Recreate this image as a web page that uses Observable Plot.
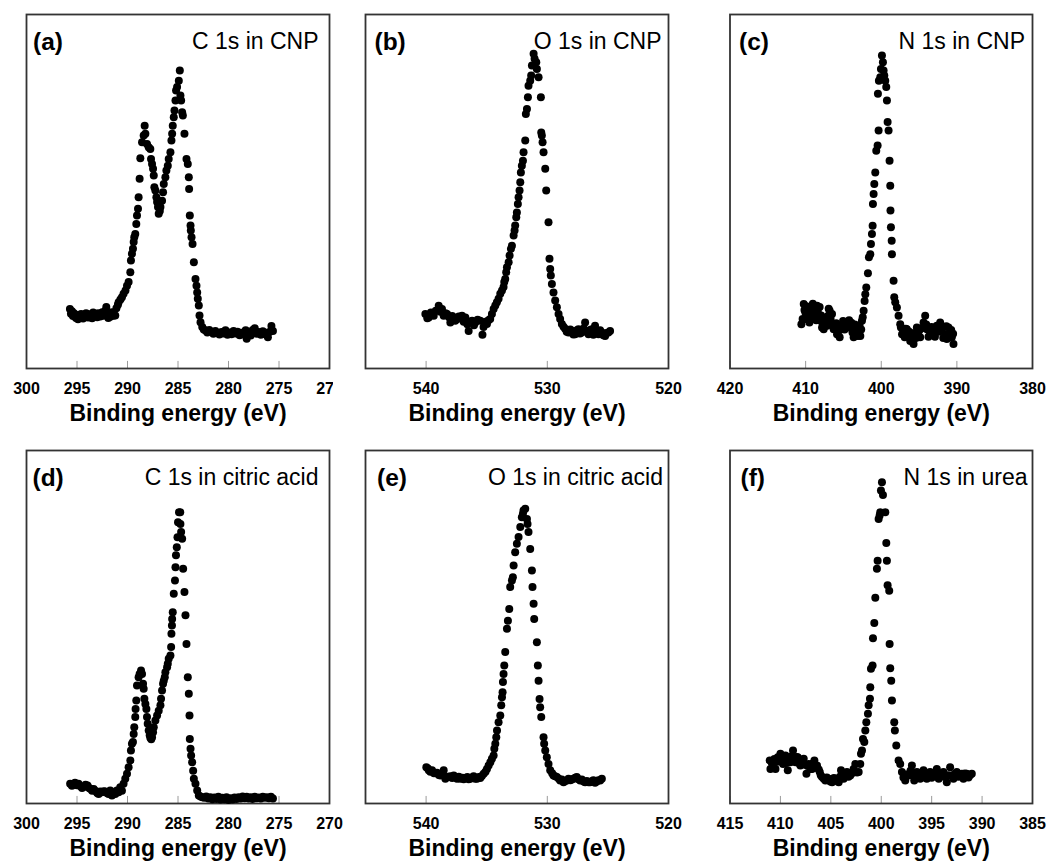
<!DOCTYPE html>
<html><head><meta charset="utf-8">
<script src="https://cdn.jsdelivr.net/npm/d3@7"></script>
<script src="https://cdn.jsdelivr.net/npm/@observablehq/plot@0.6"></script>
<style>
html,body{margin:0;padding:0;background:#fff;overflow:hidden}
#wrap{position:relative;width:1049px;height:865px;background:#fff}
.panel{position:absolute}
.panel svg{max-width:none !important}
</style></head><body><div id="wrap"></div>
<script>
// Binding energy (eV) and relative intensity (a.u., % of panel height)
const c1sCNP = [[295.7,16.8],[295.6,15.5],[295.5,16.2],[295.4,14.8],[295.3,15.6],[295.1,14.3],[295.0,15.1],[294.9,13.9],[294.7,14.6],[294.6,15.4],[294.4,14.1],[294.2,14.9],[294.1,15.6],[293.9,14.4],[293.7,15.3],[293.5,14.2],[293.4,15.8],[293.2,15.0],[293.0,14.5],[292.9,15.6],[292.7,14.7],[292.5,15.9],[292.4,14.9],[292.2,16.3],[292.1,17.4],[291.9,14.3],[291.8,15.1],[291.7,14.6],[291.54,15.9],[291.4,14.9],[291.21,15.0],[291.1,17.0],[290.95,18.0],[290.88,18.7],[290.7,19.5],[290.55,20.1],[290.39,21.1],[290.2,22.0],[290.05,23.4],[289.89,24.4],[289.72,27.2],[289.66,30.5],[289.56,32.4],[289.46,33.8],[289.39,35.7],[289.33,37.1],[289.23,38.0],[289.13,40.8],[289.06,43.2],[288.96,45.1],[288.9,48.4],[288.8,53.6],[288.73,59.4],[288.56,63.9],[288.4,65.8],[288.3,68.6],[288.23,66.3],[288.07,63.4],[287.9,62.5],[287.74,62.0],[287.67,59.2],[287.57,57.8],[287.47,56.4],[287.4,54.5],[287.34,51.2],[287.24,50.3],[287.14,48.4],[287.07,47.0],[286.98,45.6],[286.91,43.7],[286.8,44.5],[286.74,45.6],[286.58,47.4],[286.48,49.8],[286.41,52.1],[286.25,54.0],[286.15,55.9],[286.01,57.3],[285.92,59.2],[285.75,61.1],[285.65,64.4],[285.58,66.3],[285.52,68.6],[285.42,71.0],[285.35,72.9],[285.25,75.7],[285.19,78.5],[285.09,79.5],[284.92,81.3],[284.82,84.2],[284.76,77.1],[284.69,75.7],[284.59,72.4],[284.52,71.5],[284.36,66.3],[284.16,59.2],[284.03,57.8],[283.93,54.0],[283.9,50.7],[283.83,43.2],[283.76,40.4],[283.73,39.0],[283.66,37.1],[283.56,35.2],[283.43,30.0],[283.27,25.3],[283.17,23.4],[283.1,21.5],[283.04,19.7],[282.94,17.8],[282.87,15.0],[282.77,13.1],[282.6,11.7],[282.45,11.0],[282.27,10.7],[282.1,10.2],[281.9,10.9],[281.7,10.4],[281.5,9.8],[281.3,10.6],[281.1,10.0],[280.9,9.6],[280.7,10.3],[280.5,9.9],[280.3,10.8],[280.1,9.5],[279.9,10.2],[279.7,9.7],[279.5,10.6],[279.3,9.9],[279.1,10.4],[278.9,9.4],[278.7,10.1],[278.5,9.6],[278.3,10.8],[278.2,8.4],[278.0,10.0],[277.8,9.3],[277.6,10.9],[277.4,11.4],[277.2,9.8],[277.0,10.3],[276.8,9.5],[276.6,10.5],[276.4,9.7],[276.2,10.1],[276.1,8.8],[275.9,10.4],[275.75,12.0],[275.6,10.6]];

const o1sCNP = [[540.06,15.4],[539.9,14.2],[539.78,14.4],[539.6,15.8],[539.37,14.9],[539.2,16.3],[538.96,17.7],[538.82,16.0],[538.69,16.8],[538.55,14.9],[538.4,15.6],[538.27,15.4],[538.1,14.5],[538.0,13.0],[537.85,14.8],[537.72,14.4],[537.6,13.5],[537.45,13.9],[537.3,14.7],[537.04,14.9],[536.9,13.2],[536.76,14.4],[536.6,12.5],[536.49,10.6],[536.35,13.0],[536.21,13.5],[536.05,12.2],[535.94,13.0],[535.75,13.8],[535.53,13.5],[535.35,9.5],[535.26,11.7],[535.1,13.2],[534.98,12.6],[534.85,13.6],[534.71,14.0],[534.57,15.4],[534.43,16.8],[534.29,17.8],[534.16,18.7],[534.02,19.7],[533.88,21.1],[533.74,22.0],[533.61,23.0],[533.55,24.4],[533.47,25.3],[533.39,27.2],[533.33,28.6],[533.19,30.0],[533.11,31.9],[533.0,33.8],[532.92,34.7],[532.78,37.6],[532.7,39.0],[532.65,40.4],[532.56,42.7],[532.51,44.1],[532.43,46.5],[532.37,48.4],[532.29,50.3],[532.23,52.6],[532.18,55.4],[532.1,57.3],[532.01,58.7],[531.96,61.1],[531.82,64.4],[531.77,71.9],[531.68,73.3],[531.6,76.6],[531.55,79.9],[531.41,81.3],[531.33,82.8],[531.27,85.6],[531.13,88.9],[531.05,87.5],[530.91,86.5],[530.86,84.6],[530.72,82.3],[530.53,76.6],[530.5,66.7],[530.45,65.8],[530.39,63.9],[530.31,61.1],[530.17,56.4],[530.09,50.3],[529.9,41.3],[529.82,31.0],[529.76,28.1],[529.71,26.3],[529.62,23.9],[529.49,21.5],[529.35,19.2],[529.21,17.3],[529.07,15.4],[528.94,14.0],[528.8,12.6],[528.66,11.8],[528.53,11.2],[528.4,10.4],[528.25,10.2],[528.1,11.0],[527.98,10.6],[527.85,9.6],[527.7,9.7],[527.56,10.8],[527.43,11.1],[527.3,9.9],[527.15,10.2],[527.0,11.3],[526.88,13.0],[526.74,10.5],[526.6,9.7],[526.46,10.9],[526.33,11.1],[526.2,9.5],[526.06,12.1],[525.92,10.4],[525.78,9.7],[525.64,10.8],[525.5,10.2],[525.37,9.4],[525.23,9.2],[525.1,10.0],[524.96,10.2],[524.82,10.6]];

const n1sCNP = [[410.56,12.5],[410.4,14.0],[410.25,18.2],[410.15,16.5],[410.03,15.8],[409.9,17.6],[409.81,13.9],[409.7,14.8],[409.59,16.8],[409.5,13.0],[409.37,15.4],[409.25,15.9],[409.15,17.2],[409.05,18.3],[408.93,14.4],[408.82,16.4],[408.71,15.8],[408.6,13.6],[408.49,17.7],[408.4,16.0],[408.27,14.9],[408.15,17.4],[408.05,13.5],[407.95,15.0],[407.83,11.6],[407.7,12.6],[407.61,11.1],[407.5,14.0],[407.39,13.5],[407.28,12.8],[407.17,12.1],[407.05,14.8],[406.95,16.9],[406.82,16.3],[406.7,14.0],[406.51,15.4],[406.4,12.4],[406.29,11.1],[406.1,11.5],[405.95,12.8],[405.85,9.7],[405.7,10.4],[405.5,8.8],[405.35,12.0],[405.19,11.1],[405.05,13.4],[404.97,12.5],[404.85,11.0],[404.7,12.2],[404.53,13.0],[404.4,11.6],[404.25,13.6],[404.09,12.1],[403.95,12.9],[403.8,10.2],[403.65,8.8],[403.5,12.4],[403.35,11.0],[403.21,10.2],[403.1,9.2],[402.99,9.7],[402.88,12.2],[402.77,9.2],[402.65,11.0],[402.55,13.5],[402.45,14.5],[402.33,16.3],[402.2,19.1],[402.11,21.0],[401.98,22.9],[401.76,26.9],[401.63,31.4],[401.45,32.3],[401.36,35.2],[401.23,38.0],[401.14,40.3],[401.1,46.5],[401.01,49.3],[400.92,52.1],[400.79,55.4],[400.66,61.5],[400.48,63.0],[400.35,67.2],[400.44,77.6],[400.31,81.3],[400.13,82.3],[400.04,84.6],[399.91,88.4],[399.78,86.5],[399.69,84.2],[399.6,82.8],[399.47,81.3],[399.34,79.5],[399.25,75.7],[399.16,69.6],[399.03,67.2],[398.9,58.7],[398.81,51.6],[398.78,44.6],[398.72,39.9],[398.62,36.1],[398.59,32.3],[398.37,24.8],[398.28,20.1],[398.15,18.7],[397.93,17.2],[397.71,14.9],[397.49,12.5],[397.4,11.6],[397.25,9.7],[397.05,10.7],[396.9,8.8],[396.75,11.2],[396.61,11.1],[396.45,9.4],[396.3,10.4],[396.17,7.8],[396.0,9.9],[395.85,8.2],[395.73,6.9],[395.55,10.0],[395.4,8.6],[395.29,11.6],[395.1,9.3],[394.95,10.8],[394.85,8.8],[394.65,11.4],[394.41,13.0],[394.19,14.9],[394.05,12.4],[393.97,11.1],[393.75,9.0],[393.53,9.7],[393.35,11.7],[393.09,10.2],[392.9,9.0],[392.65,12.1],[392.45,10.4],[392.21,13.0],[392.1,11.6],[391.99,10.7],[391.8,8.6],[391.55,9.7],[391.4,11.9],[391.33,8.3],[391.11,11.6],[390.95,9.0],[390.89,9.7],[390.75,10.9],[390.67,8.8],[390.5,9.8],[390.45,6.9]];

const c1sCitric = [[295.68,5.6],[295.5,5.0],[295.35,5.3],[295.2,5.9],[295.0,5.2],[294.85,5.6],[294.65,4.9],[294.5,4.4],[294.35,4.7],[294.15,5.3],[293.96,5.1],[293.8,4.4],[293.69,4.2],[293.5,3.6],[293.35,4.1],[293.2,3.6],[293.0,3.0],[292.86,2.7],[292.7,3.4],[292.53,3.2],[292.35,3.5],[292.2,3.4],[292.0,2.9],[291.87,2.7],[291.71,3.7],[291.54,2.3],[291.38,3.2],[291.21,2.7],[291.05,3.7],[290.88,3.2],[290.72,4.6],[290.55,3.6],[290.39,5.6],[290.22,7.0],[290.05,8.4],[289.89,10.3],[289.72,12.2],[289.66,15.0],[289.56,16.9],[289.46,17.4],[289.39,19.7],[289.33,21.6],[289.23,24.5],[289.2,26.8],[289.13,29.2],[289.06,33.4],[288.9,35.8],[288.8,36.7],[288.66,37.7],[288.56,36.7],[288.46,33.9],[288.4,32.5],[288.33,29.7],[288.23,28.2],[288.13,26.8],[288.07,24.5],[288.0,22.6],[287.9,20.7],[287.8,19.3],[287.74,18.6],[287.65,18.2],[287.57,18.8],[287.47,20.2],[287.4,21.6],[287.24,23.5],[287.07,24.9],[286.91,26.3],[286.74,27.8],[286.68,29.7],[286.58,32.0],[286.48,33.9],[286.41,34.8],[286.31,35.8],[286.25,37.2],[286.08,38.6],[286.01,39.6],[285.92,41.0],[285.75,41.9],[285.68,44.3],[285.65,48.1],[285.6,50.4],[285.58,52.3],[285.52,54.2],[285.42,59.4],[285.3,63.2],[285.25,66.9],[285.2,70.3],[285.12,72.6],[285.05,75.4],[285.0,79.7],[284.9,82.5],[284.78,82.5],[284.76,79.2],[284.69,76.9],[284.59,75.0],[284.49,66.5],[284.36,59.9],[284.26,53.3],[284.16,45.2],[284.03,35.8],[283.93,31.1],[283.86,24.9],[283.83,18.3],[283.76,15.5],[283.7,13.6],[283.6,11.7],[283.5,9.3],[283.43,7.0],[283.27,5.6],[283.1,3.7],[282.94,2.3],[282.77,2.0],[282.6,1.8],[282.4,1.6],[282.2,2.0],[282.0,1.4],[281.8,1.8],[281.6,1.2],[281.4,1.7],[281.2,1.3],[281.0,1.9],[280.8,1.1],[280.6,1.6],[280.4,1.2],[280.2,1.8],[280.0,1.0],[279.8,1.5],[279.6,1.1],[279.4,1.7],[279.2,1.3],[279.0,1.8],[278.8,1.4],[278.6,2.0],[278.4,1.5],[278.2,1.9],[278.0,1.4],[277.8,1.8],[277.6,1.3],[277.4,1.9],[277.2,1.5],[277.0,1.7],[276.8,1.4],[276.6,1.9],[276.4,1.6],[276.2,1.8],[276.0,1.5],[275.8,1.9],[275.6,1.4]];

const o1sCitric = [[539.98,10.3],[539.85,9.9],[539.78,9.4],[539.65,9.0],[539.51,9.4],[539.35,8.6],[539.1,8.7],[538.95,8.1],[538.82,7.9],[538.68,8.4],[538.55,9.4],[538.41,7.0],[538.25,7.6],[538.0,7.7],[537.85,7.2],[537.72,7.9],[537.59,7.5],[537.45,7.0],[537.3,7.6],[537.18,7.0],[537.0,7.3],[536.9,6.9],[536.76,7.2],[536.6,7.5],[536.49,6.9],[536.35,7.0],[536.2,7.4],[536.08,7.7],[535.95,7.0],[535.8,7.0],[535.65,7.5],[535.53,7.2],[535.4,7.8],[535.25,8.4],[535.1,9.0],[534.98,9.8],[534.84,10.8],[534.7,11.7],[534.57,12.7],[534.43,13.6],[534.37,15.5],[534.29,16.9],[534.21,18.8],[534.15,20.7],[534.02,23.0],[533.88,24.9],[533.8,27.8],[533.74,30.1],[533.69,31.5],[533.66,34.4],[533.61,36.7],[533.55,39.1],[533.47,42.9],[533.33,49.5],[533.25,51.8],[533.14,55.1],[533.06,61.3],[532.92,63.2],[532.84,64.1],[532.78,67.4],[532.65,71.2],[532.51,73.6],[532.37,75.5],[532.23,78.3],[532.1,81.1],[532.01,82.1],[531.96,83.0],[531.82,83.5],[531.68,80.6],[531.63,79.2],[531.55,76.9],[531.41,72.1],[531.27,66.0],[531.22,61.3],[531.13,56.6],[531.08,52.3],[530.86,45.7],[530.78,39.1],[530.72,34.8],[530.64,29.6],[530.59,27.3],[530.5,24.5],[530.31,18.8],[530.26,16.9],[530.17,15.0],[530.04,13.1],[529.9,11.2],[529.76,9.4],[529.6,8.6],[529.49,7.9],[529.35,7.7],[529.21,7.5],[529.05,7.0],[528.94,6.5],[528.8,6.8],[528.66,6.0],[528.52,6.4],[528.39,6.5],[528.25,7.0],[528.1,6.6],[527.98,6.8],[527.84,7.0],[527.7,7.3],[527.57,7.5],[527.43,6.9],[527.29,6.5],[527.15,6.8],[527.0,6.2],[526.88,6.0],[526.74,6.4],[526.6,6.0],[526.47,6.0],[526.33,6.3],[526.2,6.6],[526.06,5.9],[525.92,6.2],[525.78,6.6],[525.64,6.5],[525.5,7.0]];

const n1sUrea = [[411.06,12.2],[410.99,9.8],[410.85,11.5],[410.73,11.2],[410.6,12.6],[410.49,9.8],[410.35,11.8],[410.26,13.1],[410.1,12.0],[410.0,14.1],[409.85,12.5],[409.74,11.2],[409.6,13.0],[409.5,13.6],[409.4,11.5],[409.27,9.4],[409.15,11.8],[409.01,11.7],[408.88,13.4],[408.75,15.0],[408.6,12.4],[408.51,11.7],[408.4,13.2],[408.28,13.1],[408.15,11.4],[408.02,10.8],[407.85,12.2],[407.69,12.7],[407.55,11.0],[407.42,8.4],[407.3,10.6],[407.19,11.2],[407.0,9.8],[406.86,9.8],[406.75,11.4],[406.63,12.2],[406.5,10.2],[406.37,10.8],[406.2,9.6],[406.1,8.9],[406.0,8.0],[405.87,7.5],[405.7,7.0],[405.54,6.5],[405.4,7.4],[405.21,7.0],[405.05,6.2],[404.88,6.0],[404.7,7.2],[404.55,7.0],[404.4,6.4],[404.22,6.0],[404.1,7.6],[403.99,9.4],[403.85,8.0],[403.73,7.0],[403.55,8.4],[403.4,8.9],[403.25,7.6],[403.07,7.9],[402.9,8.6],[402.74,9.8],[402.57,11.2],[402.4,8.8],[402.24,8.9],[402.08,11.2],[402.01,14.1],[401.91,15.0],[401.81,18.3],[401.68,17.4],[401.58,20.7],[401.48,23.0],[401.32,25.4],[401.25,27.8],[401.12,29.7],[401.09,32.9],[401.02,38.2],[400.86,39.1],[400.82,46.8],[400.69,51.1],[400.59,58.3],[400.43,66.5],[400.36,68.8],[400.26,80.6],[400.16,81.6],[400.1,82.5],[400.03,88.7],[399.93,91.0],[399.83,87.4],[399.6,82.5],[399.5,73.8],[399.44,68.8],[399.37,61.8],[399.21,60.3],[399.17,45.2],[399.11,38.3],[399.01,34.8],[398.94,29.2],[398.71,23.0],[398.65,20.7],[398.51,16.4],[398.28,12.2],[398.12,11.2],[397.95,8.9],[397.8,7.4],[397.62,6.5],[397.45,8.2],[397.29,7.9],[397.1,9.3],[396.96,10.8],[396.85,8.0],[396.73,6.5],[396.6,7.6],[396.47,8.9],[396.3,7.2],[396.14,7.0],[396.0,8.4],[395.81,9.4],[395.65,7.4],[395.48,7.0],[395.3,8.1],[395.15,8.9],[395.0,7.3],[394.82,7.9],[394.65,8.5],[394.49,9.8],[394.3,7.0],[394.16,7.5],[394.0,8.6],[393.83,8.9],[393.65,7.6],[393.5,6.0],[393.35,8.0],[393.17,10.3],[393.0,7.9],[392.84,7.0],[392.7,8.4],[392.51,8.9],[392.35,7.6],[392.18,7.9],[392.0,8.4],[391.85,7.0],[391.7,8.5],[391.52,8.4],[391.35,7.4],[391.2,8.0],[391.02,8.4]];

// Axis ranges and tick labels
const carbonTicks = [300, 295, 290, 285, 280, 275, 270];
const oxygenTicks = [540, 530, 520];
const nitrogenCNPTicks = [420, 410, 400, 390, 380];
const nitrogenUreaTicks = [415, 410, 405, 400, 395, 390, 385];
const letters = ["(a)", "(b)", "(c)", "(d)", "(e)", "(f)"];
const titles = ["C 1s in CNP", "O 1s in CNP", "N 1s in CNP", "C 1s in citric acid", "O 1s in citric acid", "N 1s in urea"];
const xLabel = "Binding energy (eV)";

const panels = [
  {data: c1sCNP, domain: [300, 270], ticks: carbonTicks},
  {data: o1sCNP, domain: [545, 520], ticks: oxygenTicks},
  {data: n1sCNP, domain: [420, 380], ticks: nitrogenCNPTicks},
  {data: c1sCitric, domain: [300, 270], ticks: carbonTicks},
  {data: o1sCitric, domain: [545, 520], ticks: oxygenTicks},
  {data: n1sUrea, domain: [415, 385], ticks: nitrogenUreaTicks}
];

// layout (page placement)
const layout = [
  {left: 0, top: 0, width: 345, mL: 26, H: 432, mB: 64, clip: 333, li: 6.5, ti: 11},
  {left: 333, top: 0, width: 351, mL: 32, H: 432, mB: 64, li: 9, ti: 7},
  {left: 703, top: 0, width: 345, mL: 26.5, H: 432, mB: 64, li: 9, ti: 7.5},
  {left: 0, top: 436, width: 345, mL: 26, H: 429, mB: 62, li: 6, ti: 11},
  {left: 333, top: 436, width: 351, mL: 32, H: 429, mB: 62, li: 11.5, ti: 5.5},
  {left: 703, top: 436, width: 345, mL: 26.5, H: 429, mB: 62, li: 10.5, ti: 5}
];

const wrap = document.getElementById("wrap");
panels.forEach((p, k) => {
  const L = layout[k];
  const rows = p.data.map(([e, i]) => ({e, i}));
  const chart = Plot.plot({
    width: L.width,
    height: L.H,
    marginLeft: L.mL,
    marginRight: 16,
    marginTop: 14,
    marginBottom: L.mB,
    style: {fontFamily: "'Liberation Sans', Arial, sans-serif", color: "black", background: "transparent", overflow: "visible", maxWidth: "none"},
    x: {domain: p.domain, label: null},
    y: {domain: [0, 100], axis: null},
    marks: [
      Plot.ruleX(p.ticks, {y1: 0, y2: 2, stroke: "#9a9a9a", strokeWidth: 1}),
      Plot.frame({stroke: "#333", strokeWidth: 1.8}),
      Plot.dot(rows, {x: "e", y: "i", r: 4, fill: "black"}),
      Plot.axisX({ticks: p.ticks, tickSize: 0, tickPadding: 14.5, label: null, fontSize: 16, fontWeight: "bold", tickFormat: d => String(d)}),
      Plot.text([letters[k]], {frameAnchor: "top-left", dx: L.li, dy: 35, textAnchor: "start", lineAnchor: "bottom", fontSize: 24.5, fontWeight: "bold"}),
      Plot.text([titles[k]], {frameAnchor: "top-right", dx: -L.ti, dy: 34.3, textAnchor: "end", lineAnchor: "bottom", fontSize: 23}),
      Plot.text([xLabel], {frameAnchor: "bottom", dy: 52.7, lineAnchor: "bottom", fontSize: 23, fontWeight: "bold"})
    ]
  });
  const div = document.createElement("div");
  div.className = "panel";
  div.style.left = L.left + "px";
  div.style.top = L.top + "px";
  if (L.clip) { div.style.width = L.clip + "px"; div.style.overflow = "hidden"; div.style.height = L.H + "px"; }
  div.appendChild(chart);
  wrap.appendChild(div);
});
</script>
</body></html>
